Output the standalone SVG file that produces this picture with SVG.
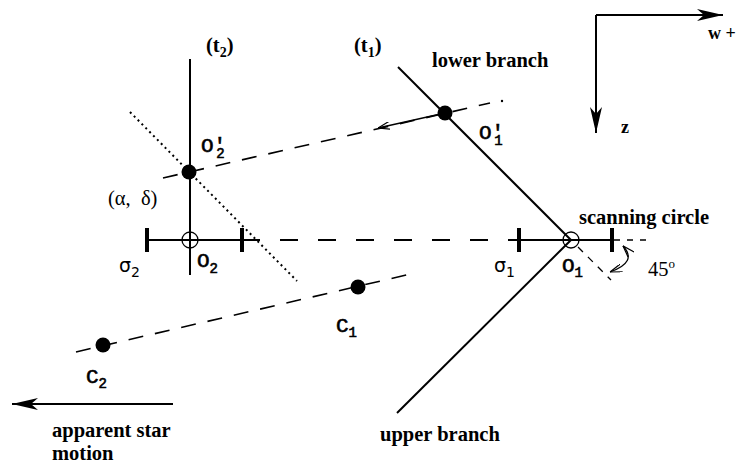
<svg xmlns="http://www.w3.org/2000/svg" width="737" height="463" viewBox="0 0 737 463">
<style>
.ln{stroke:#000;fill:none;stroke-width:2}
.thin{stroke:#000;fill:none;stroke-width:1.3}
.tick{stroke:#000;stroke-width:4}
.dash{stroke:#000;fill:none;stroke-width:1.6;stroke-dasharray:15 12}
.dot{fill:#000}
.bs{font-family:"Liberation Serif","Times New Roman",serif;font-weight:bold;font-size:20.5px}
.ax{font-family:"Liberation Serif","Times New Roman",serif;font-weight:bold;font-size:18px}
.rs{font-family:"Liberation Serif","Times New Roman",serif;font-size:20.5px;white-space:pre}
.mono{font-family:"Liberation Mono","Courier New",monospace;font-size:21px;stroke:#000;stroke-width:0.6}
.sub{font-size:14px}
.sig{font-family:"DejaVu Sans","Liberation Sans",sans-serif;font-size:19px}
</style>
<defs>
<marker id="stealth" markerUnits="userSpaceOnUse" viewBox="0 0 26 12" refX="26" refY="6" markerWidth="26" markerHeight="12" orient="auto">
<path d="M0,0 L26,6 L0,12 L7,6 Z" fill="#000"/>
</marker>
<marker id="open" markerUnits="userSpaceOnUse" viewBox="0 0 12 8" refX="12" refY="4" markerWidth="12" markerHeight="8" orient="auto">
<path d="M0,0 L12,4 L0,8" fill="none" stroke="#000" stroke-width="1.2"/>
</marker>
<marker id="openS" markerUnits="userSpaceOnUse" viewBox="0 0 12 8" refX="0" refY="4" markerWidth="12" markerHeight="8" orient="auto">
<path d="M12,0 L0,4 L12,8" fill="none" stroke="#000" stroke-width="1.2"/>
</marker>
</defs>

<g id="connectors">
<line class="ln" x1="596" y1="15" x2="723" y2="15" marker-end="url(#stealth)"/>
<line class="ln" x1="596" y1="15" x2="596" y2="133" marker-end="url(#stealth)"/>
<line class="ln" x1="173" y1="404" x2="12" y2="404" marker-end="url(#stealth)"/>
<line class="ln" x1="190" y1="59" x2="190" y2="275"/>
<line class="ln" x1="398" y1="67" x2="571" y2="240"/>
<line class="ln" x1="571" y1="240" x2="397" y2="413"/>
<line class="ln" x1="147" y1="240" x2="242" y2="240"/>
<line class="ln" x1="242" y1="240" x2="512" y2="240" stroke-dasharray="18 20"/>
<line class="ln" x1="512" y1="240" x2="612" y2="240"/>
<line class="thin" x1="614" y1="240" x2="650" y2="240" stroke-dasharray="6 7"/>
<line class="thin" x1="578" y1="247" x2="611" y2="280" stroke-dasharray="7 7"/>
<path class="thin" d="M623,246 Q638,262 610,272" marker-start="url(#openS)" marker-end="url(#open)"/>
<line class="ln" x1="130" y1="112" x2="297" y2="281" stroke-dasharray="2 3.5"/>
<line class="dash" x1="163" y1="178" x2="490" y2="103"/>
<circle class="dot" cx="502" cy="101" r="1.2"/>
<line class="dash" x1="76" y1="352" x2="415" y2="273"/>
<line class="thin" x1="445" y1="113" x2="378" y2="128" marker-end="url(#open)"/>
</g>

<g id="ticks">
<line class="tick" x1="147" y1="228" x2="147" y2="252"/>
<line class="tick" x1="242" y1="228" x2="242" y2="252"/>
<line class="tick" x1="519" y1="228" x2="519" y2="252"/>
<line class="tick" x1="612" y1="228" x2="612" y2="252"/>
</g>

<g id="node-O2">
<circle cx="190" cy="240" r="8" fill="none" stroke="#000" stroke-width="1.3"/>
<text class="mono" x="197" y="267">O<tspan class="sub" dy="6">2</tspan></text>
</g>
<g id="node-O1">
<circle cx="571" cy="240" r="8" fill="none" stroke="#000" stroke-width="1.3"/>
<text class="mono" x="562" y="272">O<tspan class="sub" dy="5">1</tspan></text>
</g>
<g id="node-O2p">
<circle class="dot" cx="189" cy="172" r="7.5"/>
<text class="mono" x="201" y="152">O′<tspan class="sub" dx="-10" dy="6">2</tspan></text>
</g>
<g id="node-O1p">
<circle class="dot" cx="445" cy="113" r="7.5"/>
<text class="mono" x="479" y="139">O′<tspan class="sub" dx="-10" dy="6">1</tspan></text>
</g>
<g id="node-C1">
<circle class="dot" cx="358" cy="287" r="7.5"/>
<text class="mono" x="336" y="332">C<tspan class="sub" dy="5">1</tspan></text>
</g>
<g id="node-C2">
<circle class="dot" cx="103" cy="345" r="7.5"/>
<text class="mono" x="86" y="383">C<tspan class="sub" dy="5">2</tspan></text>
</g>

<g id="labels">
<text class="bs" x="206" y="52">(t<tspan class="sub" dy="5">2</tspan><tspan dy="-5">)</tspan></text>
<text class="bs" x="354" y="52">(t<tspan class="sub" dy="5">1</tspan><tspan dy="-5">)</tspan></text>
<text class="bs" x="432" y="67">lower branch</text>
<text class="bs" x="579" y="224">scanning circle</text>
<text class="bs" x="380" y="441">upper branch</text>
<text class="bs" x="52" y="437">apparent star</text>
<text class="bs" x="52" y="460">motion</text>
<text class="ax" x="708" y="39">w +</text>
<text class="ax" x="621" y="133">z</text>
<text class="rs" x="108" y="205">(α,  δ)</text>
<text class="rs" x="648" y="276">45<tspan font-size="13" dy="-8">o</tspan></text>
<text class="sig" x="119" y="272">σ<tspan class="sub" dy="5">2</tspan></text>
<text class="sig" x="494" y="272">σ<tspan class="sub" dy="5">1</tspan></text>
</g>
</svg>
